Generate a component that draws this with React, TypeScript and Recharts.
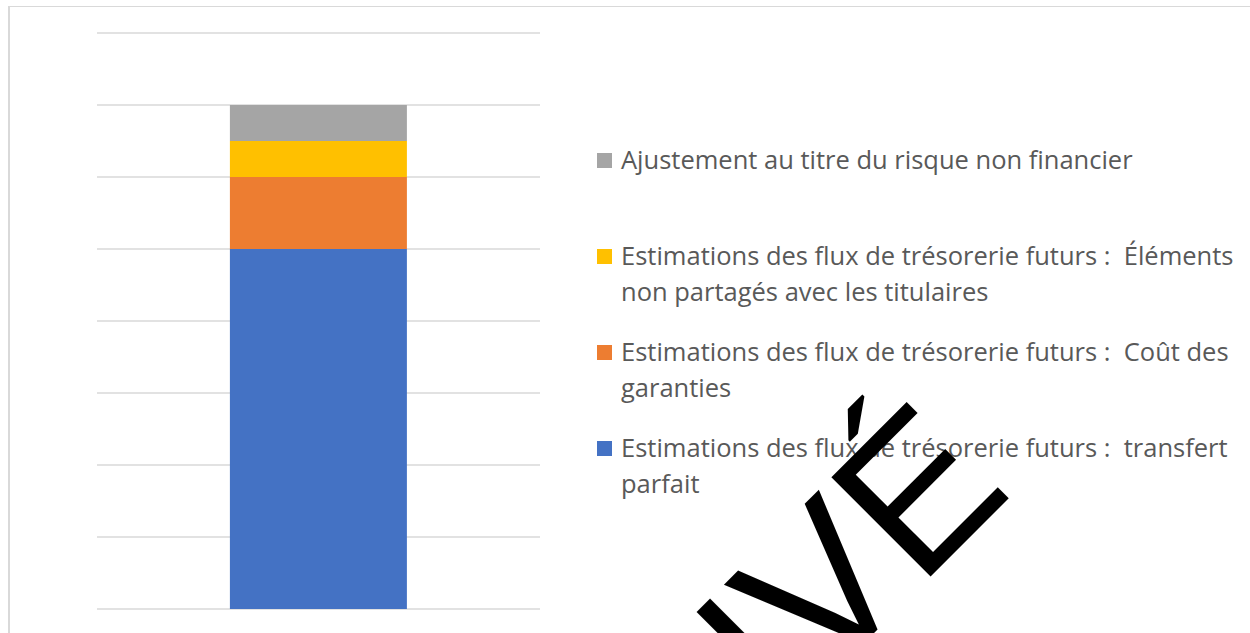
import React from 'react';
import { BarChart, Bar, XAxis, YAxis, CartesianGrid, Legend } from 'recharts';

// data (one stacked column, axis 0..8, no labels shown)
const categories = ['Total'];
const transfertParfait = [5];
const coutDesGaranties = [1];
const elementsNonPartages = [0.5];
const ajustementRisque = [0.5];
const yTicks = [0, 1, 2, 3, 4, 5, 6, 7, 8];

const seriesNames = [
  'Estimations des flux de trésorerie futurs :  transfert parfait',
  'Estimations des flux de trésorerie futurs :  Coût des garanties',
  'Estimations des flux de trésorerie futurs :  Éléments non partagés avec les titulaires',
  'Ajustement au titre du risque non financier',
];
const seriesColors = ['#4472C4', '#ED7D31', '#FFC000', '#A5A5A5'];
const watermark = 'ARCHIVÉ';

const chartData = categories.map((name, i) => ({
  name,
  s0: transfertParfait[i],
  s1: coutDesGaranties[i],
  s2: elementsNonPartages[i],
  s3: ajustementRisque[i],
}));

const LEGEND_FONT = '"Open Sans", Lato, sans-serif';

// Excel style legend: last series on top, one slot per entry
const renderLegend = (props: any) => {
  const items = [...(props.payload || [])].sort(
    (a: any, b: any) => seriesNames.indexOf(b.value) - seriesNames.indexOf(a.value)
  );
  return (
    <div style={{ position: 'relative', width: 653, height: 400 }}>
      {items.map((entry: any, i: number) => (
        <div
          key={entry.value}
          style={{ position: 'absolute', left: 0, top: i * 96, width: 653, display: 'flex', alignItems: 'flex-start' }}
        >
          <span
            style={{
              width: 15,
              height: 15,
              background: entry.color,
              marginTop: 12,
              marginRight: 9,
              flex: 'none',
            }}
          />
          <span
            style={{
              fontFamily: LEGEND_FONT,
              fontSize: 25.5,
              lineHeight: '36px',
              color: '#595959',
              whiteSpace: 'pre-wrap',
            }}
          >
            {entry.value}
          </span>
        </div>
      ))}
    </div>
  );
};

export default function App() {
  return (
    <div style={{ position: 'absolute', left: 0, top: 0, width: 1250, height: 633, overflow: 'hidden', background: '#fff' }}>
      <div
        style={{
          position: 'absolute',
          left: 8,
          top: 6,
          width: 1300,
          height: 700,
          borderLeft: '2px solid #d9d9d9',
          borderTop: '1px solid #d9d9d9',
        }}
      />
      <div style={{ position: 'absolute', left: 0, top: 0 }}>
        <BarChart
          width={1250}
          height={633}
          data={chartData}
          margin={{ top: 33, right: 710, bottom: 24, left: 97 }}
          barCategoryGap="30%"
        >
          <CartesianGrid vertical={false} stroke="#d9d9d9" strokeWidth={1.5} />
          <XAxis dataKey="name" hide />
          <YAxis hide domain={[0, 8]} ticks={yTicks} />
          <Legend
            content={renderLegend}
            layout="horizontal"
            verticalAlign="middle"
            align="center"
            wrapperStyle={{ left: 597, top: 141, width: 653, right: 'auto' }}
          />
          {seriesNames.map((name, i) => (
            <Bar
              key={name}
              dataKey={`s${i}`}
              name={name}
              stackId="a"
              fill={seriesColors[i]}
              isAnimationActive={false}
            />
          ))}
        </BarChart>
      </div>
      <svg
        width={1250}
        height={633}
        style={{ position: 'absolute', left: 0, top: 0, pointerEvents: 'none' }}
      >
        <text
          transform="translate(1015,492) rotate(-45)"
          textAnchor="end"
          fontFamily='"Liberation Sans", Arial, sans-serif'
          fontSize={204}
          fill="#000"
        >
          {watermark}
        </text>
      </svg>
    </div>
  );
}
